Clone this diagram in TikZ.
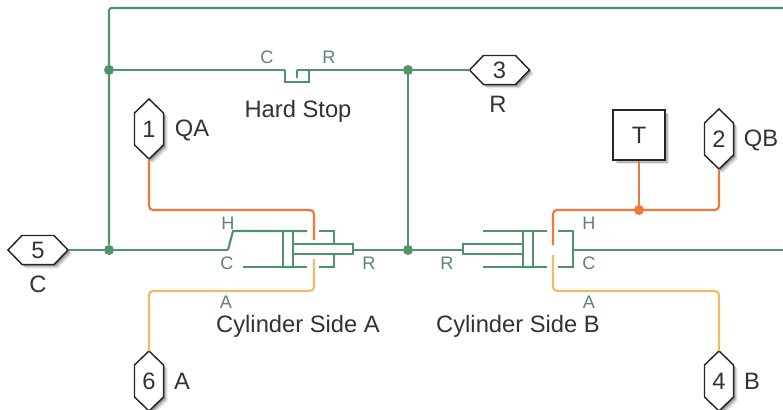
\documentclass[tikz,border=0pt]{standalone}
\usepackage{fontspec}
\setmainfont{Liberation Sans}
\usetikzlibrary{shadows}
\definecolor{wire}{HTML}{4F9468}
\definecolor{hyd}{HTML}{F0763A}
\definecolor{mech}{HTML}{EFBC62}
\definecolor{portlbl}{HTML}{5F8080}
\definecolor{txt}{HTML}{333333}
\newcommand{\fs}{\fontsize{17.8}{20}\selectfont}
\newcommand{\fss}{\fontsize{13.6}{16}\selectfont}
\tikzset{
  x=0.75pt,y=-0.75pt,
  wl/.style={draw=wire,line width=1.6pt,line join=miter},
  hl/.style={draw=hyd,line width=1.6pt,rounded corners=3pt},
  ml/.style={draw=mech,line width=1.6pt,rounded corners=3pt},
  gw/.style={draw=wire,line width=1.6pt,rounded corners=2pt},
  dotg/.style={circle,fill=wire,inner sep=0pt,minimum size=7.5pt},
  doth/.style={circle,fill=hyd,inner sep=0pt,minimum size=7.5pt},
  lbl/.style={text=txt,font=\fs,inner sep=0pt},
  plbl/.style={text=portlbl,font=\fss,inner sep=0pt},
  softshadow/.style={
    drop shadow={shadow xshift=1pt,shadow yshift=-1pt,opacity=.25,fill=black},
    drop shadow={shadow xshift=2pt,shadow yshift=-2pt,opacity=.18,fill=black},
    drop shadow={shadow xshift=3pt,shadow yshift=-3pt,opacity=.1,fill=black}},
  hexo/.style={draw=black!85,line width=1.1pt,fill=white,line join=miter,softshadow},
  hexnode/.style={inner sep=0pt,text=txt,font=\fs},
  boxs/.style={draw=black!85,line width=1.1pt,fill=white,text=txt,font=\fs,inner sep=0pt,
    minimum width=39pt,minimum height=37.5pt,softshadow},
}
\newcommand{\vport}[4]{% name x y text: vertical hexagon
  \draw[hexo] (#2,#3-30)--(#2+14.5,#3-16)--(#2+14.5,#3+16)--(#2,#3+30)--(#2-14.5,#3+16)--(#2-14.5,#3-16)--cycle;
  \node[hexnode,minimum width=21.75pt,minimum height=45pt] (#1) at (#2,#3) {#4};}
\newcommand{\hport}[4]{% name x y text: horizontal hexagon
  \draw[hexo] (#2-30,#3)--(#2-16,#3-14.5)--(#2+16,#3-14.5)--(#2+30,#3)--(#2+16,#3+14.5)--(#2-16,#3+14.5)--cycle;
  \node[hexnode,minimum width=45pt,minimum height=21.75pt] (#1) at (#2,#3) {#4};}
\begin{document}
\begin{tikzpicture}
\useasboundingbox (0,0) rectangle (783,410);
\fill[white] (0,0) rectangle (783,410);
% ports
\hport{pC}{38}{250}{5}
\hport{pR}{499.5}{70}{3}
\vport{pQA}{149}{129}{1}
\vport{pQB}{719}{139}{2}
\vport{pA}{149}{381}{6}
\vport{pB}{719}{381}{4}
\node[boxs] (T) at (639,135) {T};
% junctions
\node[dotg] (j1) at (109,70) {};
\node[dotg] (j2) at (109,250) {};
\node[dotg] (j3) at (408,70) {};
\node[dotg] (j4) at (408,250) {};
\node[doth] (j5) at (639,210) {};
% free ends
\coordinate (topR) at (783,8);
\coordinate (rightR) at (783,250);
\coordinate (hsL) at (285,70);
\coordinate (hsR) at (297,70);
\coordinate (cAH) at (228,250);
\coordinate (cArod) at (353,250);
\coordinate (cBrod) at (463,250);
\coordinate (cBC) at (573,250);
\coordinate (oA) at (314,240);
\coordinate (yA) at (314,259);
\coordinate (oB) at (553,245);
\coordinate (yB) at (553,255);
% green wires
\draw[gw] (j2) -- (109,8) -- (topR);
\draw[wl] (pC.east) -- (68,250) -- (j2);
\draw[wl] (j2) -- (cAH);
\draw[wl] (j1) -- (hsL);
\draw[wl] (hsR) -- (j3);
\draw[wl] (j3) -- (470,70);
\draw[wl] (j3) -- (j4);
\draw[wl] (cArod) -- (j4) -- (cBrod);
\draw[wl] (cBC) -- (rightR);
% hard stop symbol
\draw[wl] (hsL) -- (285,82) -- (309,82) -- (309,70);
\draw[wl] (hsR) -- (297,78);
% cylinder A
\draw[wl] (cAH) -- (233,231) -- (307,231);
\draw[wl] (243,267) -- (307,267);
\draw[wl] (283,231) rectangle (293,267);
\draw[wl] (293,244) rectangle (cArod |- 0,254);
\draw[wl] (319,231) -- (334,231) -- (334,244);
\draw[wl] (319,267) -- (334,267) -- (334,254);
% cylinder B
\draw[wl] (483,231) -- (547,231);
\draw[wl] (483,267) -- (547,267);
\draw[wl] (523,231) rectangle (533,267);
\draw[wl] (cBrod |- 0,244) rectangle (523,254);
\draw[wl] (558,231) -- (cBC |- 0,231) -- (cBC |- 0,267) -- (558,267);
% hydraulic
\draw[hl] (149,159) -- (149,210) -- (314,210) -- (oA);
\draw[hl] (oB) -- (553,210) -- (j5.center);
\draw[hl] (j5.center) -- (719,210) -- (719,169);
\draw[hl] (T.south) -- (j5);
% mechanical
\draw[ml] (149,351) -- (149,291) -- (314,291) -- (yA);
\draw[ml] (yB) -- (553,291) -- (719,291) -- (719,351);
% labels
\node[lbl] (lHS) at (298,111) {Hard Stop};
\node[lbl] (lR) at (498,104) {R};
\node[lbl] (lC) at (38,284) {C};
\node[lbl] (lQA) at (192,130) {QA};
\node[lbl] (lQB) at (761,140) {QB};
\node[lbl] (lA) at (182,381) {A};
\node[lbl] (lB) at (752,381) {B};
\node[lbl] (lCA) at (298,326) {Cylinder Side A};
\node[lbl] (lCB) at (518,326) {Cylinder Side B};
\node[plbl] (a1) at (267,57) {C};
\node[plbl] (a2) at (329,57) {R};
\node[plbl] (a3) at (228,223) {H};
\node[plbl] (a4) at (227,263) {C};
\node[plbl] (a5) at (369,263) {R};
\node[plbl] (a6) at (226,302) {A};
\node[plbl] (a7) at (447,263) {R};
\node[plbl] (a8) at (589,223) {H};
\node[plbl] (a9) at (589,263) {C};
\node[plbl] (a10) at (589,302) {A};
\end{tikzpicture}
\end{document}
